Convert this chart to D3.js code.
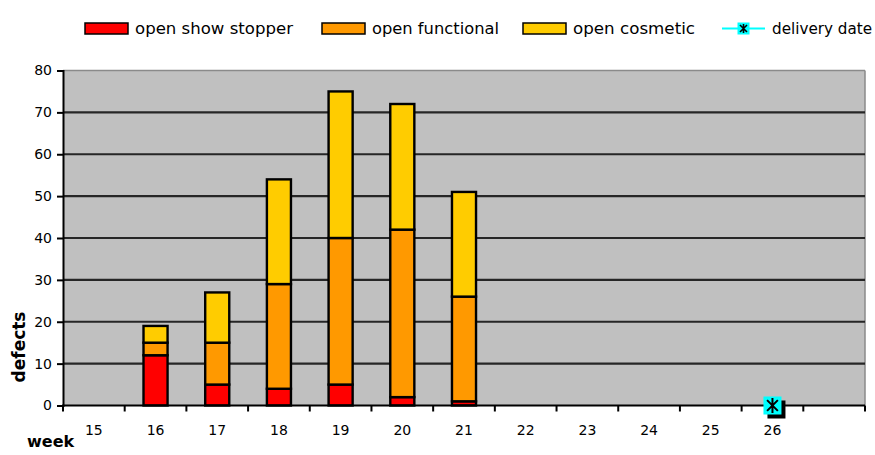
<!DOCTYPE html>
<html><head><meta charset="utf-8">
<script src="https://cdn.jsdelivr.net/npm/d3@7"></script>
<style>body{margin:0;background:#fff}svg{display:block}</style>
</head><body>
<svg id="c" width="875" height="455"></svg>
<script>
const weeks = ["15","16","17","18","19","20","21","22","23","24","25","26",""];
const showStopper = [0,12,5,4,5,2,1,0,0,0,0,0,0];
const functional  = [0,3,10,25,35,40,25,0,0,0,0,0,0];
const cosmetic    = [0,4,12,25,35,30,25,0,0,0,0,0,0];
const delivery    = [null,null,null,null,null,null,null,null,null,null,null,0,null];
const yTicks = [0,10,20,30,40,50,60,70,80];
const seriesNames = ["open show stopper","open functional","open cosmetic","delivery date"];
const colors = ["#ff0000","#ff9900","#ffcc00","#00ffff"];

const svg = d3.select("#c");
const font = "DejaVu Sans, Verdana, sans-serif";
const L = 63, R = 865, T = 70.5, B = 405.5;
const x = d3.scaleBand().domain(weeks.map((w,i)=>i)).range([L,R]).padding(0);
const y = d3.scaleLinear().domain([0,80]).range([B,T]);

// plot background
svg.append("rect").attr("x",L).attr("y",T).attr("width",R-L).attr("height",B-T).attr("fill","#c0c0c0");
svg.append("line").attr("x1",L).attr("x2",R).attr("y1",T).attr("y2",T).attr("stroke","#8a8a8a").attr("stroke-width",1.5);
svg.append("line").attr("x1",R).attr("x2",R).attr("y1",T).attr("y2",B).attr("stroke","#8a8a8a").attr("stroke-width",1.5);

// gridlines
svg.append("g").selectAll("line").data(yTicks.filter(v=>v>0&&v<80)).join("line")
  .attr("x1",L).attr("x2",R).attr("y1",d=>y(d)).attr("y2",d=>y(d))
  .attr("stroke","#262626").attr("stroke-width",2.2);

// stacked bars
const rows = weeks.map((w,i)=>({i, s:showStopper[i], f:functional[i], c:cosmetic[i]}));
const stack = d3.stack().keys(["s","f","c"])(rows);
const bw = x.bandwidth()*0.39;
stack.forEach((layer,k)=>{
  svg.append("g").selectAll("rect").data(layer.filter(d=>d[1]-d[0]>0)).join("rect")
    .attr("x",d=>x(d.data.i)+(x.bandwidth()-bw)/2)
    .attr("y",d=>y(d[1]))
    .attr("width",bw)
    .attr("height",d=>y(d[0])-y(d[1]))
    .attr("fill",colors[k]).attr("stroke","#000").attr("stroke-width",2.4);
});

// axes
const yAxis = svg.append("g").attr("transform",`translate(${L},0)`)
  .call(d3.axisLeft(y).tickValues(yTicks).tickSize(6).tickPadding(5));
yAxis.select(".domain").attr("stroke","#000").attr("stroke-width",2);
yAxis.selectAll(".tick line").attr("stroke","#000").attr("stroke-width",2);
yAxis.selectAll("text").attr("font-family",font).attr("font-size",14).attr("fill","#000");

const xAxis = svg.append("g").attr("transform",`translate(0,${B})`)
  .call(d3.axisBottom(x).tickFormat(i=>weeks[i]).tickSize(0).tickPadding(20));
xAxis.select(".domain").remove();
xAxis.selectAll("text").attr("font-family",font).attr("font-size",14).attr("fill","#000");
svg.append("line").attr("x1",L-1).attr("x2",R).attr("y1",B).attr("y2",B).attr("stroke","#000").attr("stroke-width",2);
svg.append("g").selectAll("line").data(d3.range(weeks.length+1)).join("line")
  .attr("x1",i=>i<weeks.length?x(i):R).attr("x2",i=>i<weeks.length?x(i):R)
  .attr("y1",B).attr("y2",B+6).attr("stroke","#000").attr("stroke-width",2);

// delivery date marker
function marker(g, cx, cy, s){
  g.append("rect").attr("x",cx-s/2+4).attr("y",cy-s/2+4).attr("width",s).attr("height",s).attr("fill","#000");
  g.append("rect").attr("x",cx-s/2).attr("y",cy-s/2).attr("width",s).attr("height",s).attr("fill","#00ffff");
  const a = s*0.3;
  g.append("path").attr("d",`M${cx-a},${cy-a}L${cx+a},${cy+a}M${cx+a},${cy-a}L${cx-a},${cy+a}M${cx},${cy-a-2}L${cx},${cy+a+2}`)
    .attr("stroke","#000").attr("stroke-width",2).attr("fill","none");
}
const dg = svg.append("g");
delivery.forEach((v,i)=>{ if(v!==null) marker(dg, x(i)+x.bandwidth()/2, y(v), 18); });

// axis titles
svg.append("text").attr("transform","translate(25,347) rotate(-90)").attr("text-anchor","middle")
  .attr("font-family",font).attr("font-weight","bold").attr("font-size",17).text("defects");
svg.append("text").attr("x",27).attr("y",447).attr("font-family",font).attr("font-weight","bold").attr("font-size",16).text("week");

// legend
const lg = svg.append("g");
const lx = [85,322,523,722];
const lw = [158,127,122,100];
seriesNames.forEach((n,k)=>{
  if(k<3){
    lg.append("rect").attr("x",lx[k]).attr("y",23).attr("width",43).attr("height",11)
      .attr("fill",colors[k]).attr("stroke","#000").attr("stroke-width",1.5);
  } else {
    lg.append("line").attr("x1",lx[k]).attr("x2",lx[k]+43).attr("y1",28.5).attr("y2",28.5).attr("stroke","#00ffff").attr("stroke-width",2);
    const cx = lx[k]+21.5, cy = 28.5, s = 12;
    lg.append("rect").attr("x",cx-s/2).attr("y",cy-s/2).attr("width",s).attr("height",s).attr("fill","#00ffff");
    const a=3.5;
    lg.append("path").attr("d",`M${cx-a},${cy-a}L${cx+a},${cy+a}M${cx+a},${cy-a}L${cx-a},${cy+a}M${cx},${cy-a-1}L${cx},${cy+a+1}`)
      .attr("stroke","#000").attr("stroke-width",1.6);
  }
  lg.append("text").attr("x",lx[k]+50).attr("y",34).attr("font-family",font).attr("font-size",15)
    .attr("textLength",lw[k]).attr("lengthAdjust","spacingAndGlyphs").text(n);
});
</script>
</body></html>
